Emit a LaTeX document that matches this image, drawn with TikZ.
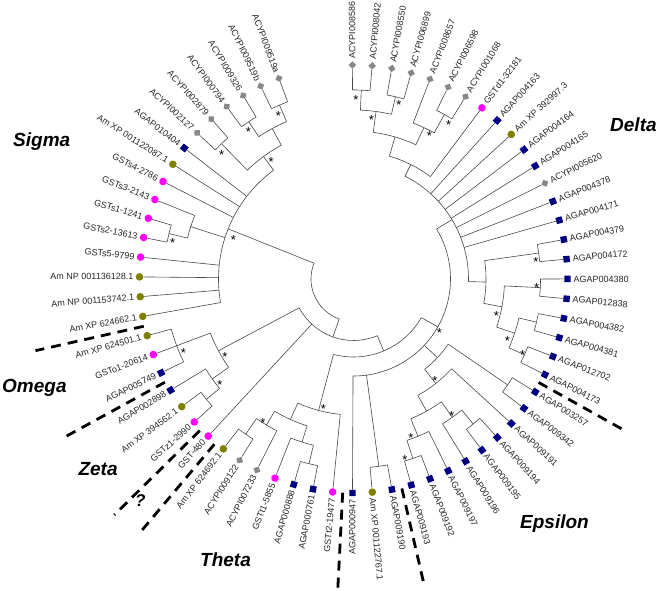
\documentclass[tikz,border=0pt]{standalone}
\usepackage{fontspec}
\setmainfont{Liberation Sans}
\definecolor{navyc}{RGB}{0,0,128}
\definecolor{magc}{RGB}{255,0,255}
\definecolor{olivec}{RGB}{128,128,0}
\definecolor{grayc}{RGB}{136,136,136}
\tikzset{
 br/.style={draw=black!72, line width=0.6pt},
 mkA/.style={rectangle, fill=navyc, minimum size=6.4pt, inner sep=0pt},
 mkC/.style={rectangle, fill=grayc, minimum size=5.4pt, inner sep=0pt, rotate=45},
 mkM/.style={circle, fill=magc, minimum size=7.6pt, inner sep=0pt},
 mkO/.style={circle, fill=olivec, minimum size=7.6pt, inner sep=0pt},
 lbl/.style={inner sep=0pt, text=black!85, font=\fontsize{9}{9}\selectfont},
 ast/.style={inner sep=0pt, font=\fontsize{13}{13}\selectfont},
 clade/.style={inner sep=0pt, anchor=base west, font=\fontsize{19}{19}\selectfont\bfseries\itshape},
 sepline/.style={line width=2.8pt, dash pattern=on 10pt off 7pt}
}
\newcommand\tzang[1]{90.3-5.311*(#1-1)}
% name, first child u, last child u, radius, parent radius
\newcommand\inode[5]{%
 \pgfmathsetmacro\tzA{\tzang{#2}}%
 \pgfmathsetmacro\tzB{\tzang{#3}}%
 \pgfmathsetmacro\tzM{(\tzA+\tzB)/2}%
 \draw[br] (\tzA:#4pt) arc[start angle=\tzA, end angle=\tzB, radius=#4pt];%
 \coordinate (#1) at (\tzM:#4pt);%
 \coordinate (#1p) at (\tzM:#5pt);%
 \draw[br] (#1) -- (#1p);%
}
% index, marker style, label, parent radius
\newcommand\leaf[4]{%
 \pgfmathsetmacro\tzL{\tzang{#1}}%
 \coordinate (P#1) at (\tzL:#4pt);%
 \node[#2, rotate=\tzL] (L#1) at (\tzL:214pt) {};%
 \draw[br] (L#1) -- (P#1);%
 \ifdim\tzL pt>-90pt
   \node[lbl, rotate=\tzL, anchor=west] (T#1) at (\tzL:220pt) {#3};%
 \else
   \pgfmathsetmacro\tzR{\tzL+180}%
   \node[lbl, rotate=\tzR, anchor=east] (T#1) at (\tzL:220pt) {#3};%
 \fi
}
\begin{document}
\begin{tikzpicture}[x=1pt,y=1pt]
\useasboundingbox (0,0) rectangle (661,591);
\begin{scope}[shift={(353.5,312)}]
 % Delta
 \inode{N12}{1}{2}{189}{169}
 \inode{N34}{3}{4}{187}{169}
 \inode{N1234}{1.5}{3.5}{169}{148}
 \inode{N67}{6}{7}{188}{167}
 \inode{N567}{5}{6.5}{167}{148}
 \inode{N1to7}{2.5}{5.75}{148}{128}
 \inode{Nd8}{4.125}{8}{128}{115}
 \inode{N1617}{16}{17}{187}{132.5}
 \inode{N1819}{18}{19}{187}{151}
 \inode{N2021}{20}{21}{188}{170}
 \inode{N2223}{22}{23}{187}{170}
 \inode{N2023}{20.5}{22.5}{170}{151}
 \inode{N1823}{18.5}{21.5}{151}{132.5}
 \inode{Nx}{16.5}{20}{132.5}{115}
 \inode{ND}{6.0625}{18.25}{115}{97}
 % Epsilon and neighbours
 \inode{N2425}{24}{25}{187}{115}
 \inode{N2728}{27}{28}{188}{170}
 \inode{N2729}{27.5}{29}{170}{151}
 \inode{N3132}{31}{32}{189}{170}
 \inode{N3032}{30}{31.5}{170}{151}
 \inode{N2732}{28.25}{30.75}{151}{133}
 \inode{N2632}{26}{29.5}{133}{115}
 \inode{NE}{24.5}{27.75}{115}{97}
 \inode{N3334}{33}{34}{189}{97}
 \inode{NC}{12.15625}{35}{97}{78}
 % Theta
 \inode{N3738}{37}{38}{190}{171}
 \inode{N3739}{37.5}{39}{171}{154}
 \inode{N4142}{41}{42}{189}{170}
 \inode{N4042}{40}{41.5}{170}{154}
 \inode{N3742}{38.25}{40.75}{154}{136}
 \inode{Ntheta}{36}{39.5}{136}{78}
 \inode{NR1}{23.578125}{37.75}{78}{61.5}
 % Zeta, Omega
 \inode{N4445}{44}{45}{190}{173}
 \inode{N4446}{44.5}{46}{173}{153}
 \inode{NOm}{47}{49}{189}{153}
 \inode{NOZ}{45.25}{48}{153}{61.5}
 \inode{NB}{30.6640625}{46.625}{61.5}{42.5}
 % Sigma
 \inode{N5455}{54}{55}{190}{171}
 \inode{N5456}{54.5}{56}{171}{135}
 \inode{N6061}{60}{61}{189}{152}
 \inode{N6263}{62}{63}{189}{171}
 \inode{N6465}{64}{65}{189}{171}
 \inode{N6265}{62.5}{64.5}{171}{152}
 \inode{N6065}{60.5}{63.5}{152}{135}
 \inode{NS}{50}{62}{135}{42.5}
 \inode{Root}{38.64453125}{56}{42.5}{42.5}
 % leaves
 \leaf{1}{mkC}{ACYPI008586}{189}
 \leaf{2}{mkC}{ACYPI008042}{189}
 \leaf{3}{mkC}{ACYPI008550}{187}
 \leaf{4}{mkC}{ACYPI006899}{187}
 \leaf{5}{mkC}{ACYPI008657}{167}
 \leaf{6}{mkC}{ACYPI006598}{188}
 \leaf{7}{mkC}{ACYPI001068}{188}
 \leaf{8}{mkM}{GSTd1-32181}{128}
 \leaf{9}{mkA}{AGAP004163}{115}
 \leaf{10}{mkO}{Am XP 392997.3}{115}
 \leaf{11}{mkA}{AGAP004164}{115}
 \leaf{12}{mkA}{AGAP004165}{115}
 \leaf{13}{mkC}{ACYPI005620}{115}
 \leaf{14}{mkA}{AGAP004378}{115}
 \leaf{15}{mkA}{AGAP004171}{115}
 \leaf{16}{mkA}{AGAP004379}{187}
 \leaf{17}{mkA}{AGAP004172}{187}
 \leaf{18}{mkA}{AGAP004380}{187}
 \leaf{19}{mkA}{AGAP012838}{187}
 \leaf{20}{mkA}{AGAP004382}{188}
 \leaf{21}{mkA}{AGAP004381}{188}
 \leaf{22}{mkA}{AGAP012702}{187}
 \leaf{23}{mkA}{AGAP004173}{187}
 \leaf{24}{mkA}{AGAP003257}{187}
 \leaf{25}{mkA}{AGAP009342}{187}
 \leaf{26}{mkA}{AGAP009191}{133}
 \leaf{27}{mkA}{AGAP009194}{188}
 \leaf{28}{mkA}{AGAP009195}{188}
 \leaf{29}{mkA}{AGAP009196}{170}
 \leaf{30}{mkA}{AGAP009197}{170}
 \leaf{31}{mkA}{AGAP009192}{189}
 \leaf{32}{mkA}{AGAP009193}{189}
 \leaf{33}{mkA}{AGAP009190}{189}
 \leaf{34}{mkO}{Am XP 001122767.1}{189}
 \leaf{35}{mkA}{AGAP000947}{97}
 \leaf{36}{mkM}{GSTt2-19477}{136}
 \leaf{37}{mkA}{AGAP000761}{190}
 \leaf{38}{mkA}{AGAP000888}{190}
 \leaf{39}{mkM}{GSTt1-5855}{171}
 \leaf{40}{mkC}{ACYPI007233}{170}
 \leaf{41}{mkC}{ACYPI009122}{189}
 \leaf{42}{mkO}{Am XP 624692.1}{189}
 \leaf{43}{mkM}{GST-480}{61.5}
 \leaf{44}{mkM}{GSTz1-2990}{190}
 \leaf{45}{mkO}{Am XP 394562.1}{190}
 \leaf{46}{mkA}{AGAP002898}{173}
 \leaf{47}{mkA}{AGAP005749}{189}
 \leaf{48}{mkM}{GSTo1-20614}{189}
 \leaf{49}{mkO}{Am XP 624501.1}{189}
 \leaf{50}{mkO}{Am XP 624662.1}{135}
 \leaf{51}{mkO}{Am NP 001153742.1}{135}
 \leaf{52}{mkO}{Am NP 001136128.1}{135}
 \leaf{53}{mkM}{GSTs5-9799}{135}
 \leaf{54}{mkM}{GSTs2-13613}{190}
 \leaf{55}{mkM}{GSTs1-1241}{190}
 \leaf{56}{mkM}{GSTs3-2143}{171}
 \leaf{57}{mkM}{GSTs4-2786}{135}
 \leaf{58}{mkO}{Am XP 001122087.1}{135}
 \leaf{59}{mkA}{AGAP010404}{135}
 \leaf{60}{mkC}{ACYPI002127}{189}
 \leaf{61}{mkC}{ACYPI002879}{189}
 \leaf{62}{mkC}{ACYPI000794}{189}
 \leaf{63}{mkC}{ACYPI009326}{189}
 \leaf{64}{mkC}{ACYPI009519b}{189}
 \leaf{65}{mkC}{ACYPI009519a}{189}
 % clade separators
 \coordinate (S1a) at (-29.2:212pt);  \coordinate (S1b) at (-29.2:307pt);
 \coordinate (S2a) at (-77.0:215pt);  \coordinate (S2b) at (-77.0:312pt);
 \coordinate (S3a) at (-92.9:214pt);  \coordinate (S3b) at (-92.9:309pt);
 \coordinate (S4a) at (-130.1:216pt); \coordinate (S4b) at (-130.1:329pt);
 \coordinate (S5a) at (-135.4:216pt); \coordinate (S5b) at (-135.4:336pt);
 \coordinate (S6a) at (-151.3:215pt); \coordinate (S6b) at (-151.3:331pt);
 \coordinate (S7a) at (-167.3:215pt); \coordinate (S7b) at (-167.3:326pt);
 \foreach \s in {1,...,7} { \draw[sepline] (S\s a) -- (S\s b); }
\end{scope}
\begin{scope}[shift={(0,591)},yscale=-1]
 \foreach \px/\py [count=\k] in {356/97.3, 398.8/102, 371.5/117, 448.7/122.5, 429.3/133,
   535.8/259.3, 536.7/285.5, 496.3/312.7, 507.5/338.3, 522.7/352.5, 439.3/330.5,
   435/378.5, 451.7/412.8, 410.8/435, 405/456.7, 323.3/406, 263/420.3, 225/354,
   220/381.7, 183.3/349.7, 172.7/240, 233.3/237, 221.7/151.7, 248.3/129, 278.3/113, 271.2/159}
   { \node[ast] (A\k) at (\px,\py+2.9) {*}; }
 \node[clade] (cSigma) at (13,147) {Sigma};
 \node[clade] (cDelta) at (610,131.8) {Delta};
 \node[clade] (cOmega) at (2,393) {Omega};
 \node[clade] (cZeta) at (78.3,475.5) {Zeta};
 \node[clade, font=\fontsize{17}{17}\selectfont\bfseries\itshape] (cQ) at (135,506.5) {?};
 \node[clade] (cTheta) at (200,566.5) {Theta};
 \node[clade] (cEps) at (520,528.5) {Epsilon};
\end{scope}
\end{tikzpicture}
\end{document}
